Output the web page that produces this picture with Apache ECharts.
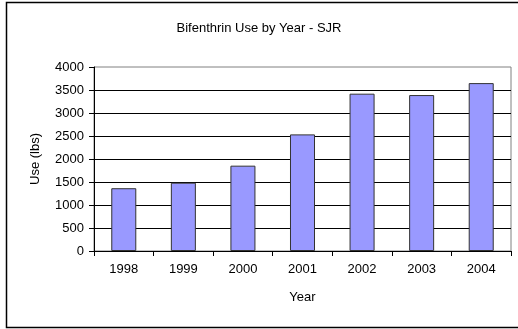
<!DOCTYPE html>
<html>
<head>
<meta charset="utf-8">
<style>
  html, body { margin: 0; padding: 0; background: #fff; }
  #chart { width: 518px; height: 329px; }
</style>
<script src="https://cdn.jsdelivr.net/npm/echarts@6/dist/echarts.min.js"></script>
</head>
<body>
<div id="chart"></div>
<script>
// Annual bifenthrin use in the San Joaquin River region, pounds
const years = ['1998', '1999', '2000', '2001', '2002', '2003', '2004'];
const useLbs = [1365, 1485, 1855, 2535, 3420, 3390, 3650];
const yTicks = { min: 0, max: 4000, interval: 500 };

const FONT = '"Liberation Sans", Arial, sans-serif';
const chart = echarts.init(document.getElementById('chart'), null, { renderer: 'canvas' });

chart.setOption({
  animation: false,
  backgroundColor: '#fff',
  textStyle: { fontFamily: FONT, color: '#000' },
  title: {
    text: 'Bifenthrin Use by Year - SJR',
    left: 'center',
    top: 17,
    textStyle: { fontFamily: FONT, fontSize: 13, fontWeight: 'normal', color: '#000' }
  },
  graphic: [{
    type: 'rect',
    shape: { x: 6.5, y: 2.5, width: 520, height: 325 },
    style: { fill: 'none', stroke: '#000', lineWidth: 1.5 },
    silent: true,
    z: -1
  }],
  grid: {
    left: 94, right: 7, top: 67, bottom: 78,
    show: true,
    borderColor: '#808080',
    borderWidth: 1,
    backgroundColor: '#fff'
  },
  xAxis: {
    type: 'category',
    data: years,
    name: 'Year',
    nameLocation: 'middle',
    nameGap: 40,
    nameTextStyle: { fontFamily: FONT, fontSize: 13, color: '#000' },
    axisLine: { lineStyle: { color: '#000', width: 1 } },
    axisTick: { show: true, inside: false, length: 5, lineStyle: { color: '#000' } },
    axisLabel: { fontFamily: FONT, fontSize: 13, color: '#000', margin: 12 }
  },
  yAxis: {
    type: 'value',
    min: yTicks.min,
    max: yTicks.max,
    interval: yTicks.interval,
    name: 'Use (lbs)',
    nameLocation: 'middle',
    nameRotate: 90,
    nameGap: 52,
    nameTextStyle: { fontFamily: FONT, fontSize: 13, color: '#000' },
    axisLine: { show: true, lineStyle: { color: '#000', width: 1 } },
    axisTick: { show: true, inside: false, length: 5, lineStyle: { color: '#000' } },
    axisLabel: { fontFamily: FONT, fontSize: 13, color: '#000', margin: 10, formatter: v => String(v) },
    splitLine: { show: true, showMinLine: false, showMaxLine: false, lineStyle: { color: '#000', width: 1 } }
  },
  series: [{
    type: 'bar',
    data: useLbs,
    barWidth: '42%',
    itemStyle: { color: '#9999FF', borderColor: '#333', borderWidth: 1 }
  }]
});
</script>
</body>
</html>
